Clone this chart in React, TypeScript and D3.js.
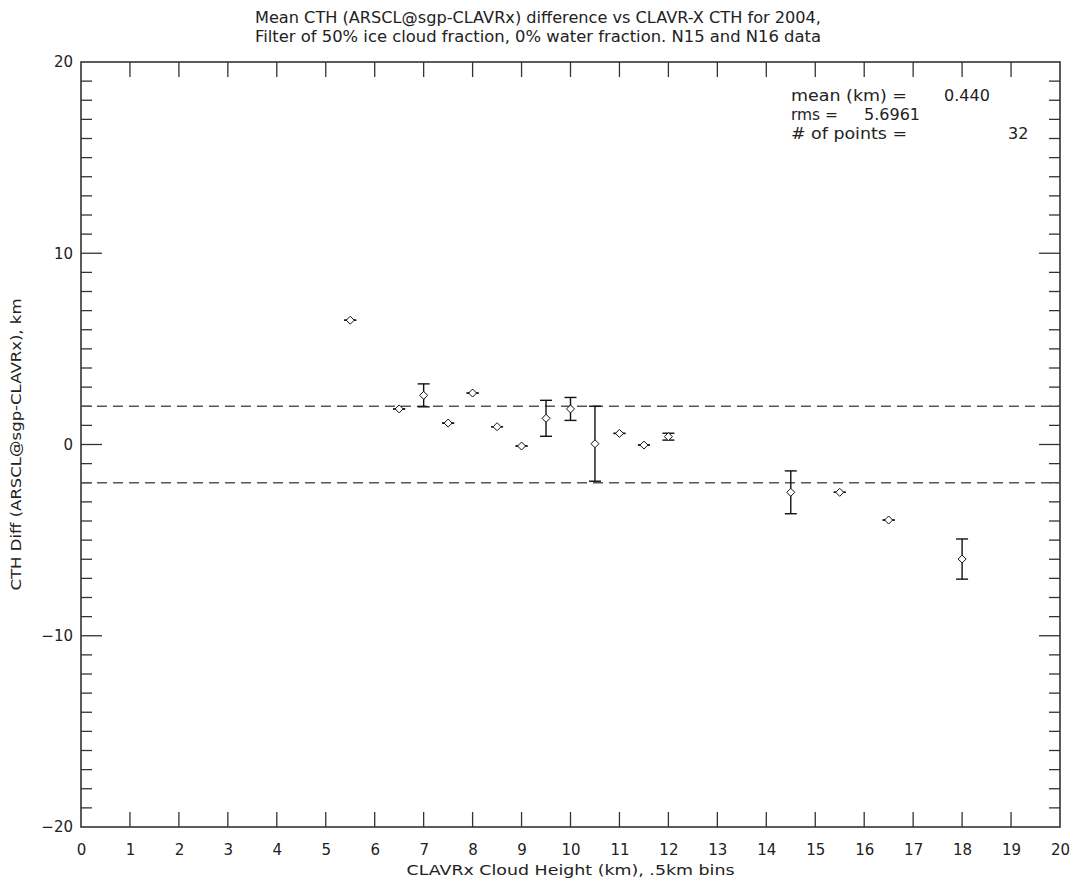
import React, { useEffect, useRef } from 'react';
import * as d3 from 'd3';

// bin centres (km) and mean CTH difference with error half-widths
const binCenters = [5.5, 6.5, 7, 7.5, 8, 8.5, 9, 9.5, 10, 10.5, 11, 11.5, 12, 14.5, 15.5, 16.5, 18];
const meanDiff = [6.5, 1.86, 2.57, 1.12, 2.69, 0.93, -0.08, 1.37, 1.86, 0.04, 0.58, -0.03, 0.41, -2.5, -2.5, -3.95, -5.99];
const errHalf = [0, 0, 0.6, 0, 0, 0, 0, 0.94, 0.6, 1.96, 0, 0, 0.18, 1.12, 0, 0, 1.05];
const refLines = [2, -2];

const titleLines = [
  'Mean CTH (ARSCL@sgp-CLAVRx) difference vs CLAVR-X CTH for 2004,',
  'Filter of 50% ice cloud fraction, 0% water fraction. N15 and N16 data',
];
const statLabels = ['mean (km) =', 'rms =', '# of points ='];
const statValues = ['0.440', '5.6961', '32'];

const W = 1073;
const H = 882;
const margin = { left: 81, right: 13, top: 62, bottom: 55 };
const font = '"DejaVu Sans", sans-serif';
const ink = '#222';

export default function App() {
  const ref = useRef<SVGSVGElement>(null);

  useEffect(() => {
    const svg = d3.select(ref.current);
    svg.selectAll('*').remove();

    const x = d3.scaleLinear().domain([0, 20]).range([margin.left, W - margin.right]);
    const y = d3.scaleLinear().domain([-20, 20]).range([H - margin.bottom, margin.top]);
    const [x0, x1] = x.range();
    const [y0, y1] = y.range();

    // title, centred on the window
    svg.selectAll('text.title')
      .data(titleLines)
      .enter()
      .append('text')
      .attr('class', 'title')
      .attr('x', 538)
      .attr('y', (d, i) => 23 + i * 19)
      .attr('text-anchor', 'middle')
      .attr('font-family', font)
      .attr('font-size', 16)
      .attr('fill', ink)
      .attr('textLength', 566)
      .attr('lengthAdjust', 'spacingAndGlyphs')
      .text(d => d);

    // x axes: bottom labelled, top ticks only
    const xb = svg.append('g').attr('transform', `translate(0,${y0})`)
      .call(d3.axisBottom(x).ticks(20).tickSize(0).tickPadding(17).tickFormat(d3.format('d')));
    xb.select('.domain').remove();
    xb.selectAll('text').attr('font-family', font).attr('font-size', 15).attr('fill', ink);

    const xTicks = x.ticks(20);
    svg.append('g').selectAll('line').data(xTicks.slice(1, -1)).enter().append('line')
      .attr('x1', d => x(d)).attr('x2', d => x(d)).attr('y1', y0).attr('y2', y0 - 15)
      .attr('stroke', '#333').attr('stroke-width', 1.3);
    svg.append('g').selectAll('line').data(xTicks.slice(1, -1)).enter().append('line')
      .attr('x1', d => x(d)).attr('x2', d => x(d)).attr('y1', y1).attr('y2', y1 + 15)
      .attr('stroke', '#333').attr('stroke-width', 1.3);

    // y axes: major every 10, minor every 1
    const yl = svg.append('g').attr('transform', `translate(${x0},0)`)
      .call(d3.axisLeft(y).tickValues([-20, -10, 0, 10, 20]).tickSize(0).tickPadding(8));
    yl.select('.domain').remove();
    yl.selectAll('text').attr('font-family', font).attr('font-size', 15).attr('fill', ink);

    const yMinor = d3.range(-19, 20).filter(v => v % 10 !== 0);
    const yMajor = [-10, 0, 10];
    [[x0, 1], [x1, -1]].forEach(([xe, dir]) => {
      svg.append('g').selectAll('line').data(yMinor).enter().append('line')
        .attr('x1', xe).attr('x2', xe + dir * 11).attr('y1', d => y(d)).attr('y2', d => y(d))
        .attr('stroke', '#333').attr('stroke-width', 1.3);
      svg.append('g').selectAll('line').data(yMajor).enter().append('line')
        .attr('x1', xe).attr('x2', xe + dir * 21).attr('y1', d => y(d)).attr('y2', d => y(d))
        .attr('stroke', '#333').attr('stroke-width', 1.3);
    });

    // frame
    svg.append('rect')
      .attr('x', x0).attr('y', y1).attr('width', x1 - x0).attr('height', y0 - y1)
      .attr('fill', 'none').attr('stroke', '#333').attr('stroke-width', 1.6);

    // axis titles
    svg.append('text')
      .attr('x', (x0 + x1) / 2).attr('y', 875)
      .attr('text-anchor', 'middle').attr('font-family', font).attr('font-size', 14).attr('fill', ink)
      .attr('textLength', 328).attr('lengthAdjust', 'spacingAndGlyphs')
      .text('CLAVRx Cloud Height (km), .5km bins');
    svg.append('text')
      .attr('transform', `translate(21,${(y0 + y1) / 2}) rotate(-90)`)
      .attr('text-anchor', 'middle').attr('font-family', font).attr('font-size', 14).attr('fill', ink)
      .attr('textLength', 292).attr('lengthAdjust', 'spacingAndGlyphs')
      .text('CTH Diff (ARSCL@sgp-CLAVRx), km');

    // reference dashed lines
    svg.append('g').selectAll('line').data(refLines).enter().append('line')
      .attr('x1', x0).attr('x2', x1).attr('y1', d => y(d)).attr('y2', d => y(d))
      .attr('stroke', '#555').attr('stroke-width', 1.6).attr('stroke-dasharray', '10,6');

    // error bars
    const pts = binCenters.map((b, i) => ({ b, m: meanDiff[i], e: errHalf[i] }));
    const eb = svg.append('g').attr('stroke', '#111').attr('stroke-width', 1.4);
    eb.selectAll('line.v').data(pts).enter().append('line').attr('class', 'v')
      .attr('x1', d => x(d.b)).attr('x2', d => x(d.b))
      .attr('y1', d => y(d.m + d.e)).attr('y2', d => y(d.m - d.e));
    eb.selectAll('line.t').data(pts).enter().append('line').attr('class', 't')
      .attr('x1', d => x(d.b) - 6).attr('x2', d => x(d.b) + 6)
      .attr('y1', d => y(d.m + d.e)).attr('y2', d => y(d.m + d.e));
    eb.selectAll('line.b').data(pts).enter().append('line').attr('class', 'b')
      .attr('x1', d => x(d.b) - 6).attr('x2', d => x(d.b) + 6)
      .attr('y1', d => y(d.m - d.e)).attr('y2', d => y(d.m - d.e));

    // diamond markers
    svg.append('g').selectAll('path').data(pts).enter().append('path')
      .attr('d', d => {
        const cx = x(d.b), cy = y(d.m);
        return `M${cx - 4},${cy}L${cx},${cy - 4}L${cx + 4},${cy}L${cx},${cy + 4}Z`;
      })
      .attr('fill', 'white').attr('stroke', '#111').attr('stroke-width', 1);

    // stats box
    const statX = [944, 864, 1008];
    const labelLen = [116, 47, 116];
    statLabels.forEach((s, i) => {
      svg.append('text').attr('x', 791).attr('y', 101 + i * 19)
        .attr('font-family', font).attr('font-size', 16).attr('fill', ink)
        .attr('textLength', labelLen[i]).attr('lengthAdjust', 'spacingAndGlyphs').text(s);
      svg.append('text').attr('x', statX[i]).attr('y', 101 + i * 19)
        .attr('font-family', font).attr('font-size', 16).attr('fill', ink).text(statValues[i]);
    });
  }, []);

  return <svg ref={ref} width={W} height={H} style={{ display: 'block', position: 'absolute', left: 0, top: 0, background: 'white' }} />;
}
